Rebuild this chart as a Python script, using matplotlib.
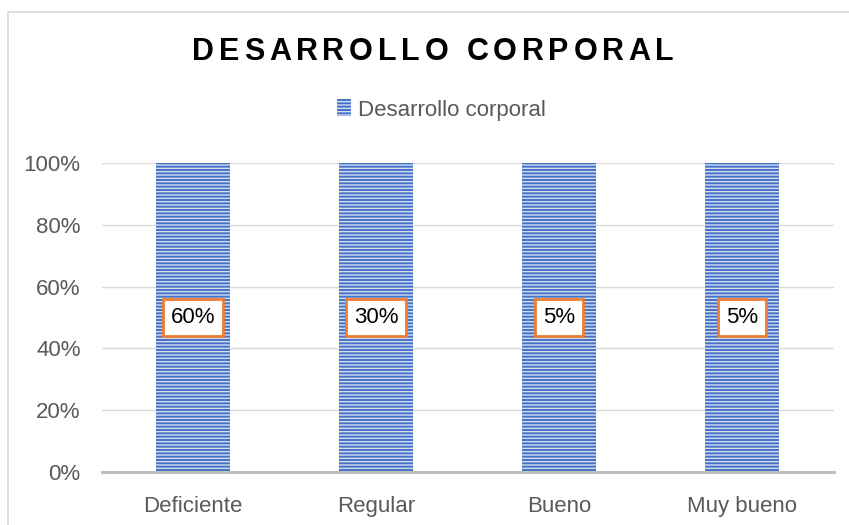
import matplotlib
matplotlib.use("Agg")
import matplotlib.pyplot as plt
from matplotlib.patches import Rectangle, Patch
from matplotlib.transforms import IdentityTransform
from matplotlib.ticker import PercentFormatter

# datos del gráfico
categorias = ["Deficiente", "Regular", "Bueno", "Muy bueno"]
valores = [0.60, 0.30, 0.05, 0.05]
serie = "Desarrollo corporal"
titulo = "DESARROLLO CORPORAL"
ticks_y = [0, 0.2, 0.4, 0.6, 0.8, 1.0]

plt.rcParams['font.family'] = ['Liberation Sans', 'DejaVu Sans']
plt.rcParams['hatch.linewidth'] = 1.0
plt.rcParams['hatch.color'] = '#d2ddf2'

azul = '#4472C4'
gris = '#595959'

fig = plt.figure(figsize=(8.49, 5.25), dpi=100)
ax = fig.add_axes([101.5 / 849, 53 / 525, 732 / 849, 309 / 525])

# columnas 100% apiladas: cada columna llega a 100%
x = range(len(categorias))
alturas = [v / v for v in valores]
ax.bar(x, alturas, width=0.4, color=azul, hatch='-----', linewidth=0, zorder=2)

for i, v in enumerate(valores):
    ax.text(i, 0.5, f"{v:.0%}", ha='center', va='center', fontsize=16, color='black', zorder=4,
            bbox=dict(boxstyle='square,pad=0.36', facecolor='white', edgecolor='#ED7D31', linewidth=2))

ax.set_xlim(-0.5, len(categorias) - 0.5)
ax.set_ylim(0, 1)
ax.set_yticks(ticks_y)
ax.yaxis.set_major_formatter(PercentFormatter(1.0, decimals=0))
ax.set_xticks(list(x))
ax.set_xticklabels(categorias)
ax.tick_params(axis='both', length=0, labelsize=16, colors=gris)
ax.tick_params(axis='x', pad=17)
ax.tick_params(axis='y', pad=15)
ax.grid(axis='y', color='#d9d9d9', linewidth=1, zorder=0)
for s in ['top', 'right', 'left']:
    ax.spines[s].set_visible(False)
ax.spines['bottom'].set_color('#bfbfbf')
ax.spines['bottom'].set_linewidth(2.2)
ax.spines['bottom'].set_zorder(3)

# leyenda
fig.legend(handles=[Patch(facecolor=azul, hatch='-----', linewidth=0, label=serie)],
           loc='center', bbox_to_anchor=(441 / 849, 1 - 110 / 525), frameon=False,
           fontsize=16, labelcolor=gris, handlelength=0.65, handleheight=0.8, handletextpad=0.3)

# borde del área del gráfico
fig.patches.append(Rectangle((8 / 849, -0.1), 2, 1.1 - 12 / 525, transform=fig.transFigure,
                             fill=False, edgecolor='#d9d9d9', linewidth=1.2))

# título con espaciado entre letras
fig.canvas.draw()
r = fig.canvas.get_renderer()
tam = 22
espacio = 4.8
anchos = []
for ch in titulo:
    if ch == ' ':
        anchos.append(0.278 * tam * 100 / 72)
    else:
        t = fig.text(0, 0, ch, fontsize=tam, fontweight='bold', transform=IdentityTransform())
        anchos.append(t.get_window_extent(r).width)
        t.remove()
total = sum(anchos) + espacio * (len(titulo) - 1)
xpos = 433 - total / 2
for ch, w in zip(titulo, anchos):
    if ch != ' ':
        fig.text(xpos, 525 - 52, ch, fontsize=tam, fontweight='bold', color='black',
                 va='center', ha='left', transform=IdentityTransform())
    xpos += w + espacio

fig.savefig('out.png', dpi=100)
